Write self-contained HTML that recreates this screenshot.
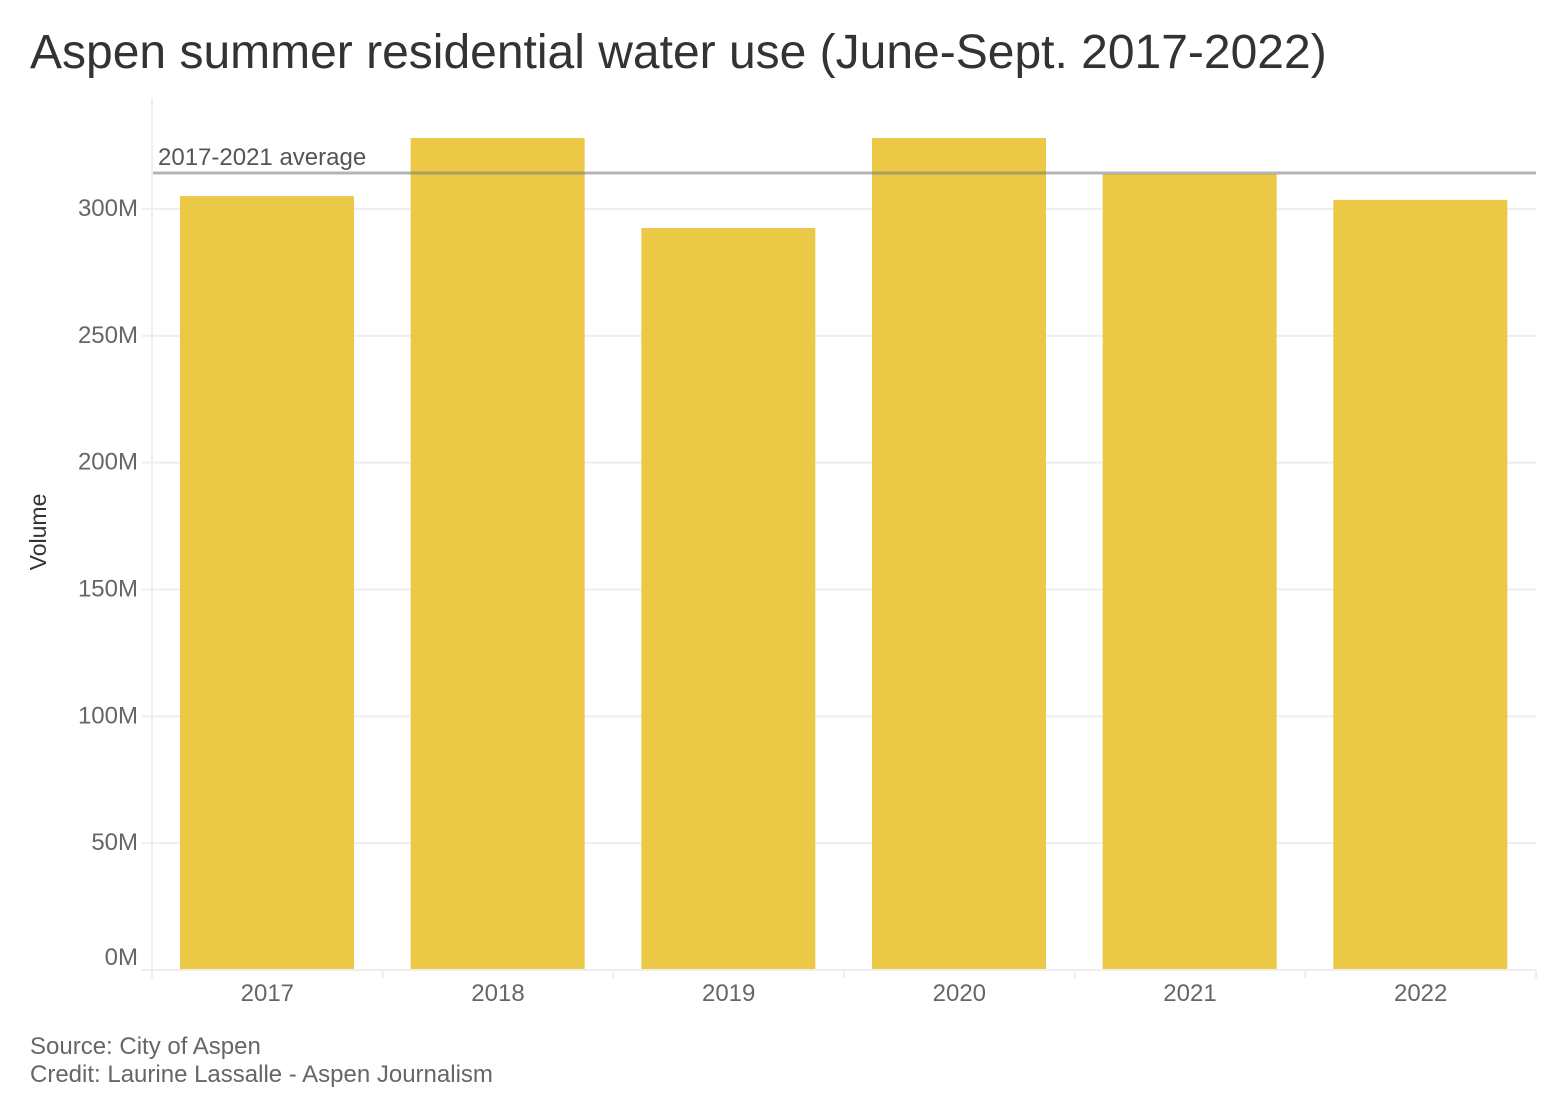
<!DOCTYPE html>
<html><head><meta charset="utf-8"><style>
body{margin:0;background:#fff;font-family:"Liberation Sans",Arial,sans-serif}
</style></head><body>
<svg width="1558" height="1114" xmlns="http://www.w3.org/2000/svg" id="chart" font-family="Liberation Sans, Arial, sans-serif">
<text x="30" y="68" font-size="48" fill="#333">Aspen summer residential water use (June-Sept. 2017-2022)</text>
<line x1="152" y1="98" x2="152" y2="970" stroke="#eee" stroke-width="2"/>
<g id="grid"></g><g id="bars"></g><g id="xaxis"></g>
<text transform="translate(46,532) rotate(-90)" text-anchor="middle" font-size="23" fill="#333">Volume</text>
<text x="30" y="1054" font-size="24" fill="#666">Source: City of Aspen</text>
<text x="30" y="1082" font-size="24" fill="#666">Credit: Laurine Lassalle - Aspen Journalism</text>
</svg>
<script>
const categories=["2017","2018","2019","2020","2021","2022"];
const values=[304.7,327.6,292.1,327.6,313.4,303.2];
const yTicks=[0,50,100,150,200,250,300];
const average=[313.8];
const NS="http://www.w3.org/2000/svg";
const x0=152,x1=1536,yBase=969,pxPer=(969-208)/300;
const y=v=>yBase-v*pxPer;
const bw=(x1-x0)/categories.length;
function mk(t,a,p){const e=document.createElementNS(NS,t);for(const k in a)e.setAttribute(k,a[k]);p.appendChild(e);return e;}
const grid=document.getElementById('grid'),bars=document.getElementById('bars'),xa=document.getElementById('xaxis');
yTicks.forEach(v=>{
 const l=mk('line',{x1:142,x2:1536,y1:y(v)+1,y2:y(v)+1,stroke:'#eee','stroke-width':2},grid);
 
 
 const t=mk('text',{x:138,y:y(v)+8-(v===0?12:0),'text-anchor':'end','font-size':24,fill:'#666'},grid);
 t.textContent=v+'M';
 
 
});
categories.forEach((c,i)=>{
 const bx=x0+i*bw+28;
 const r=mk('rect',{x:bx,y:y(values[i]),width:174,height:yBase-y(values[i]),fill:'#ebc947'},bars);
 
 
 const t=mk('text',{x:x0+i*bw+bw/2,y:1001,'text-anchor':'middle','font-size':24,fill:'#666'},xa);
 t.textContent=c;
 
 
});
for(let i=0;i<=categories.length;i++){
 const tk=mk('line',{x1:x0+i*bw,x2:x0+i*bw,y1:970,y2:978,stroke:'#eee','stroke-width':2},xa);
 
 
}
const av=mk('line',{x1:153,x2:1536,y1:y(average[0]),y2:y(average[0]),stroke:'#777','stroke-opacity':0.55,'stroke-width':3},bars);


const at=mk('text',{x:158,y:y(average[0])-8,'font-size':24,fill:'#555'},bars);
at.textContent='2017-2021 average';


</script>
</body></html>
